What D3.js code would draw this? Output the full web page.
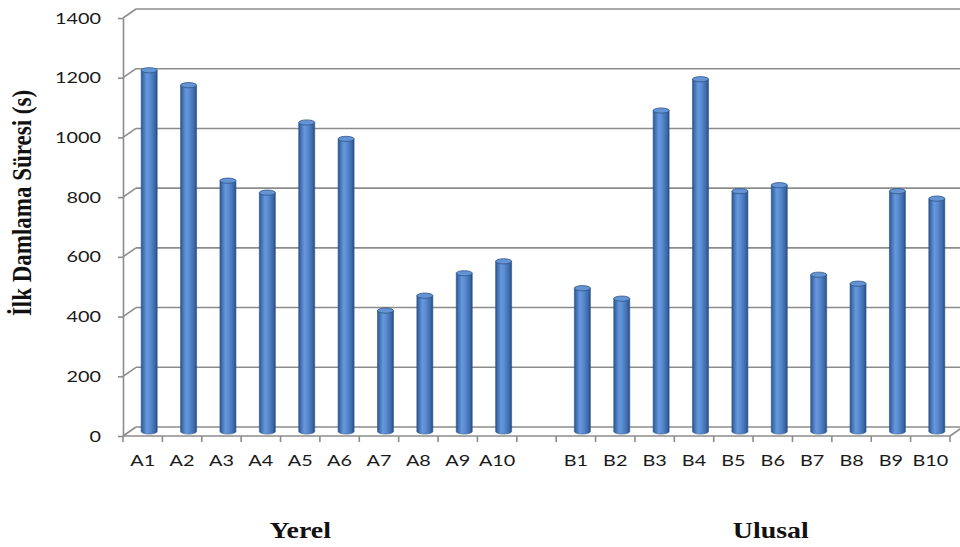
<!DOCTYPE html>
<html>
<head>
<meta charset="utf-8">
<script src="https://cdn.jsdelivr.net/npm/d3@7"></script>
<style>
  html, body { margin: 0; padding: 0; background: #ffffff; }
  svg { display: block; }
</style>
</head>
<body>
<svg id="chart" width="960" height="547"></svg>
<script>
// Category labels for the two groups
const categoriesA = ["A1", "A2", "A3", "A4", "A5", "A6", "A7", "A8", "A9", "A10"];
const categoriesB = ["B1", "B2", "B3", "B4", "B5", "B6", "B7", "B8", "B9", "B10"];
// First-drip time (s) for each sample
const valuesA = [1210, 1160, 840, 800, 1035, 980, 405, 455, 530, 570];
const valuesB = [480, 445, 1075, 1180, 805, 825, 525, 495, 805, 780];
// Value axis ticks
const yTicks = [0, 200, 400, 600, 800, 1000, 1200, 1400];
const groupLabels = ["Yerel", "Ulusal"];
const yTitle = "İlk Damlama Süresi (s)";

const svg = d3.select("#chart");
const W = 960, H = 547;
svg.append("rect").attr("width", W).attr("height", H).attr("fill", "#ffffff");

// Pseudo-3D depth offset of the back wall relative to the front plane
const DX = 13, DY = -9;
const left = 123, right = 950, floorY = 436, topY = 18;
const gridColor = "#8c8c8c";
const stretch = 1.24; // horizontal glyph stretch

const GAP = "__gap__";
const x = d3.scaleBand()
  .domain([...categoriesA, GAP, ...categoriesB])
  .range([left, right])
  .padding(0);

const yFront = d3.scaleLinear().domain([0, 1400]).range([floorY, topY]);
const yBack = d3.scaleLinear().domain([0, 1400]).range([floorY + DY, topY + DY]);
const yMid = d3.scaleLinear().domain([0, 1400]).range([floorY + DY / 2, topY + DY / 2]);

// Back wall gridlines with side-wall connectors
const grid = svg.append("g").attr("stroke", gridColor).attr("stroke-width", 1.6).attr("fill", "none");
yTicks.forEach(v => {
  grid.append("line")
    .attr("x1", left).attr("y1", yFront(v))
    .attr("x2", left + DX).attr("y2", yBack(v));
  if (v > 0) {
    grid.append("line")
      .attr("x1", left + DX).attr("y1", yBack(v))
      .attr("x2", W).attr("y2", yBack(v));
  }
});

// Floor: back edge, front edge and right side
grid.append("line").attr("x1", left + DX).attr("y1", yBack(0)).attr("x2", right + DX).attr("y2", yBack(0));
grid.append("line").attr("x1", left).attr("y1", floorY).attr("x2", right).attr("y2", floorY);
grid.append("line").attr("x1", right).attr("y1", floorY).attr("x2", right + DX).attr("y2", yBack(0));

// Category boundary ticks under the floor
const boundaries = x.domain().map(d => x(d)).concat([x(categoriesB[categoriesB.length - 1]) + x.bandwidth()]);
boundaries.forEach(b => {
  grid.append("line").attr("x1", b).attr("x2", b).attr("y1", floorY).attr("y2", floorY + 6);
});

// Value axis
const gY = svg.append("g")
  .attr("transform", `translate(${left},0)`)
  .call(d3.axisLeft(yFront).tickValues(yTicks).tickSize(5).tickSizeOuter(0).tickFormat(d3.format("d")));
gY.select(".domain").attr("stroke", gridColor).attr("stroke-width", 1.6);
gY.selectAll(".tick line").attr("stroke", gridColor).attr("stroke-width", 1.6);
gY.selectAll(".tick text")
  .attr("x", 0)
  .attr("transform", `translate(-22,0) scale(${stretch},1)`)
  .attr("fill", "#1a1a1a")
  .style("font-family", "Lato, 'Open Sans', sans-serif")
  .style("font-size", "16px");

// Category axis labels
const gX = svg.append("g")
  .attr("transform", `translate(0,${floorY})`)
  .call(d3.axisBottom(x).tickSize(0).tickPadding(19).tickFormat(d => d === GAP ? "" : d));
gX.select(".domain").remove();
gX.selectAll(".tick text")
  .attr("transform", `scale(${stretch},1)`)
  .attr("fill", "#1a1a1a")
  .style("font-family", "Lato, 'Open Sans', sans-serif")
  .style("font-size", "16px");

// Cylinder shading
const defs = svg.append("defs");
const grad = defs.append("linearGradient").attr("id", "cyl").attr("x1", "0").attr("x2", "1").attr("y1", "0").attr("y2", "0");
[[0, "#2a5289"], [0.12, "#3f70b2"], [0.35, "#6898dc"], [0.55, "#5a8bd0"], [0.85, "#3c6aab"], [1, "#274d83"]]
  .forEach(([o, c]) => grad.append("stop").attr("offset", o).attr("stop-color", c));

const bars = [
  ...categoriesA.map((c, i) => ({ cat: c, value: valuesA[i] })),
  ...categoriesB.map((c, i) => ({ cat: c, value: valuesB[i] }))
];
const r = 8, ry = 2.6;
const barG = svg.append("g");
const bar = barG.selectAll("g.bar").data(bars).join("g").attr("class", "bar");
bar.append("path")
  .attr("d", d => {
    const cx = x(d.cat) + x.bandwidth() / 2 + DX / 2;
    const yt = yMid(d.value), yb = yMid(0);
    return `M${cx - r},${yt} L${cx - r},${yb} A${r},${ry} 0 0 0 ${cx + r},${yb} L${cx + r},${yt} Z`;
  })
  .attr("fill", "url(#cyl)")
  .attr("stroke", "#2f5688")
  .attr("stroke-width", 0.6);
bar.append("ellipse")
  .attr("cx", d => x(d.cat) + x.bandwidth() / 2 + DX / 2)
  .attr("cy", d => yMid(d.value))
  .attr("rx", r).attr("ry", ry)
  .attr("fill", "#6594d4")
  .attr("stroke", "#2f5688")
  .attr("stroke-width", 0.8);

// Axis title
svg.append("text")
  .attr("transform", `translate(31,203) scale(1.15,1) rotate(-90)`)
  .attr("text-anchor", "middle")
  .style("font-family", "'Liberation Serif', 'Times New Roman', serif")
  .style("font-weight", "bold")
  .style("font-size", "23px")
  .attr("fill", "#111")
  .text(yTitle);

// Group labels
const groupCenters = [
  x(categoriesA[4]) + x.bandwidth() / 2,
  x(categoriesB[5]) + x.bandwidth() / 2 - 2
];
groupLabels.forEach((g, i) => {
  svg.append("text")
    .attr("transform", `translate(${groupCenters[i]},538) scale(${stretch},1)`)
    .attr("text-anchor", "middle")
    .style("font-family", "'Liberation Serif', 'Times New Roman', serif")
    .style("font-weight", "bold")
    .style("font-size", "22.5px")
    .attr("fill", "#111")
    .text(g);
});
</script>
</body>
</html>
